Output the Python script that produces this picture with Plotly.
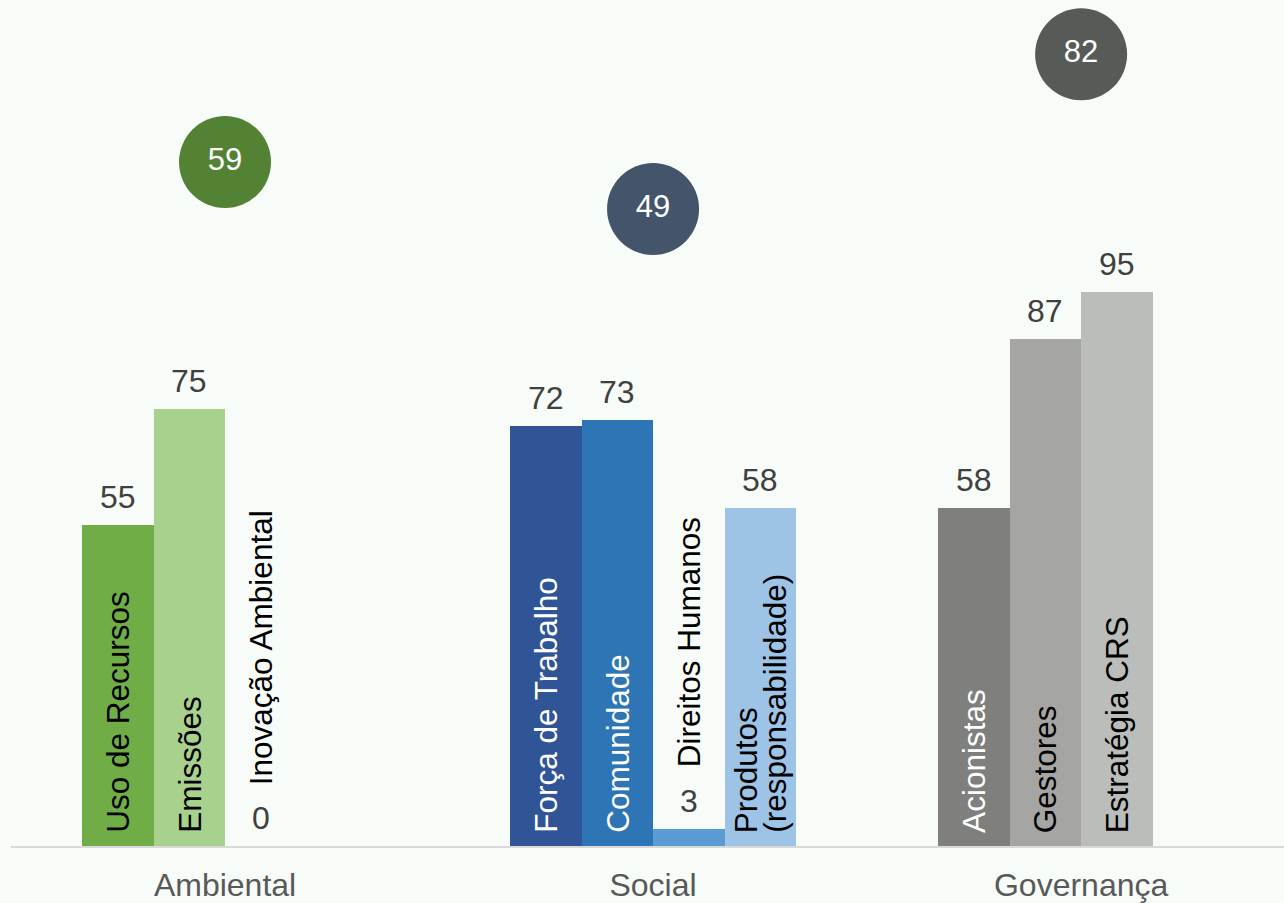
import plotly.graph_objects as go

# pilares ESG e nota de cada um (bolhas)
pillars = ["Ambiental", "Social", "Governança"]
pillar_scores = [59, 49, 82]

# subcategorias (barras)
sub_names = [
    "Uso de Recursos", "Emissões", "Inovação Ambiental",
    "Força de Trabalho", "Comunidade", "Direitos Humanos", "Produtos\n(responsabilidade)",
    "Acionistas", "Gestores", "Estratégia CRS",
]
sub_values = [55, 75, 0, 72, 73, 3, 58, 58, 87, 95]
sub_pillar = [0, 0, 0, 1, 1, 1, 1, 2, 2, 2]
sub_slot = [0, 1, 2, 0, 1, 2, 3, 0, 1, 2]

BAR_COLORS = [
    "#70ad47", "#a9d18e", "#a9d18e",
    "#2f5597", "#2e75b6", "#5b9bd5", "#9dc3e6",
    "#7f807e", "#a5a6a4", "#babdb9",
]
NAME_COLORS = [
    "#000000", "#000000", "#000000",
    "#ffffff", "#ffffff", "#000000", "#000000",
    "#ffffff", "#000000", "#000000",
]
BUBBLE_COLORS = ["#548235", "#44546a", "#565b57"]
BG = "#f7fcf8"
FONT = "Liberation Sans, Arial, sans-serif"
BAR_W = 0.167

xs = [p + (s - 1.5) * BAR_W for p, s in zip(sub_pillar, sub_slot)]

fig = go.Figure()
fig.add_trace(
    go.Bar(
        x=xs,
        y=sub_values,
        width=BAR_W,
        marker=dict(color=BAR_COLORS, line=dict(width=0)),
        hoverinfo="skip",
        showlegend=False,
    )
)
fig.add_trace(
    go.Scatter(
        x=list(range(len(pillars))),
        y=pillar_scores,
        yaxis="y2",
        mode="markers+text",
        text=[str(v) for v in pillar_scores],
        textposition="middle center",
        textfont=dict(color="#ffffff", size=31, family=FONT),
        marker=dict(size=92, color=BUBBLE_COLORS, line=dict(width=0)),
        hoverinfo="skip",
        showlegend=False,
    )
)

annotations = []
for x, v, name, col in zip(xs, sub_values, sub_names, NAME_COLORS):
    # valor acima da barra
    annotations.append(dict(
        x=x, y=v, xref="x", yref="y", text=str(v), showarrow=False,
        xanchor="center", yanchor="bottom", yshift=8,
        font=dict(size=32, color="#404040", family=FONT),
    ))
    # nome rotacionado: dentro da barra, ou acima do valor se a barra for baixa
    small = v < 10
    lines = name.split("\n")
    n = len(lines)
    for i, ln in enumerate(lines):
        annotations.append(dict(
            x=x, y=v if small else 0, xref="x", yref="y", text=ln, showarrow=False,
            textangle=-90, xanchor="center", yanchor="bottom",
            yshift=59 if small else 11, xshift=(i - (n - 1) / 2) * 28,
            font=dict(size=31.5, color=col, family=FONT),
        ))

fig.update_layout(
    width=1284,
    height=903,
    paper_bgcolor=BG,
    plot_bgcolor=BG,
    margin=dict(l=11, r=0, t=0, b=54),
    bargap=0,
    annotations=annotations,
    xaxis=dict(
        range=[-0.5, 2.474],
        tickvals=list(range(len(pillars))),
        ticktext=pillars,
        tickfont=dict(size=32, color="#595959", family=FONT),
        ticks="outside", ticklen=10, tickcolor="rgba(0,0,0,0)",
        showline=True, linecolor="#d9d9d9", linewidth=2,
        showgrid=False, zeroline=False, fixedrange=True,
    ),
    yaxis=dict(range=[0, 145.1], visible=False, showgrid=False, zeroline=False, fixedrange=True),
    yaxis2=dict(range=[-87.0, 93.6], overlaying="y", visible=False, showgrid=False,
                zeroline=False, fixedrange=True),
)

# sem margem da página, para o gráfico ocupar a janela inteira
fig.write_html(
    "out.html",
    config={"displayModeBar": False},
    post_script=f"document.body.style.margin='0';document.body.style.background='{BG}';",
)
